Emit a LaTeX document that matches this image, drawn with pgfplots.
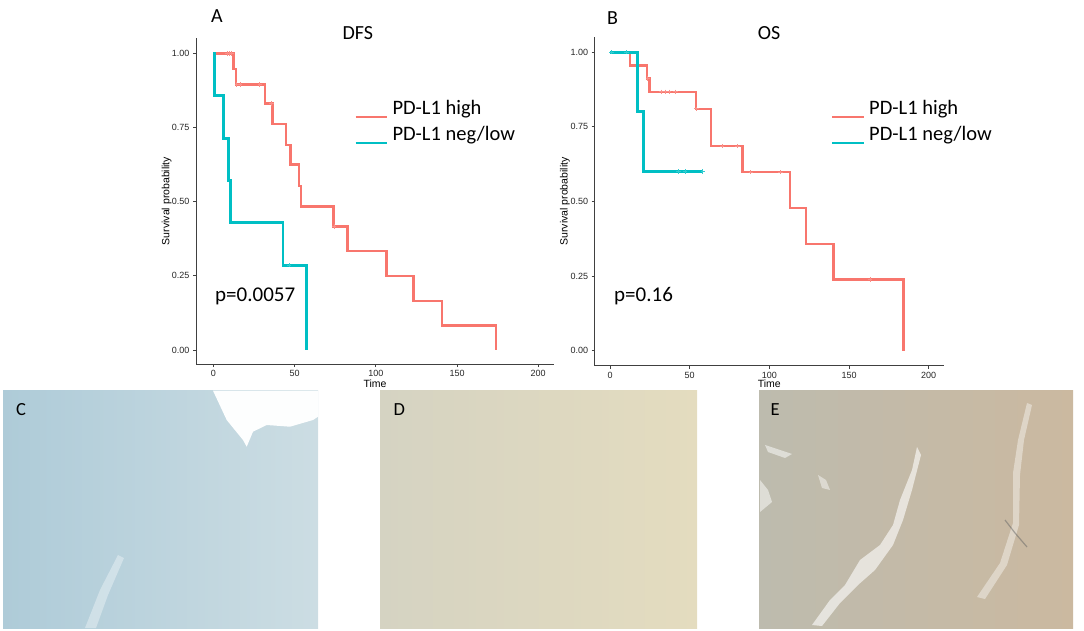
\documentclass[border=0pt]{standalone}
\usepackage{pgfplots}
\pgfplotsset{compat=1.18}
\usepackage{fontspec}
\setmainfont{Carlito}
\newfontfamily\arialf{Liberation Sans}
\definecolor{kmred}{HTML}{F8766D}
\definecolor{kmcyan}{HTML}{00BFC4}
\definecolor{cL}{HTML}{AECBD8}
\definecolor{cR}{HTML}{CCDDE3}
\definecolor{dL}{HTML}{D5D3C2}
\definecolor{dR}{HTML}{E4DCBF}
\definecolor{eL}{HTML}{BDBBAE}
\definecolor{eR}{HTML}{CBB9A0}

\pgfplotsset{kmaxis/.style={
  scale only axis, anchor=south west,
  axis x line*=bottom, axis y line*=left,
  axis line style={black!75, line width=0.9pt},
  tick align=outside, major tick length=3pt,
  tick style={black!75, line width=0.8pt},
  xtick={0,50,100,150,200},
  ytick={0,0.25,0.5,0.75,1},
  yticklabels={0.00,0.25,0.50,0.75,1.00},
  /pgf/number format/assume math mode=true,
  ticklabel style={font=\arialf\fontsize{9}{10}\selectfont, text=black!85},
  label style={font=\arialf\fontsize{10.5}{12}\selectfont},
  xlabel={Time}, ylabel={Survival probability},
  clip=false,
}}

\begin{document}
\begin{tikzpicture}[x=1pt,y=1pt]
\path[use as bounding box] (0,0) rectangle (1084,630);

% --- micrograph panels (decorative stand-ins) ---
\shade[left color=cL, right color=cR] (3,2) rectangle (318,239.3);
\fill[white!96!cR] (213,239.3) -- (226.7,210) -- (243,190) -- (246.7,183.3) -- (253,198.3) -- (266.7,205) -- (290,203.3) -- (313,210) -- (318,213.3) -- (318,239.3) -- cycle;
\fill[white, opacity=0.35] (85,2) -- (100,40) -- (118,75) -- (124,72) -- (108,35) -- (96,2) -- cycle;
\shade[left color=dL, right color=dR] (380,2) rectangle (697,240);
\shade[left color=eL, right color=eR] (759,2) rectangle (1073,240);
\fill[white, opacity=0.6] (917,183) -- (912,160) -- (900,130) -- (893,105) -- (880,85) -- (860,70) -- (845,45) -- (830,30) -- (812,5) -- (822,4) -- (840,27) -- (858,45) -- (875,60) -- (893,85) -- (903,110) -- (912,140) -- (921,175) -- cycle;
\fill[white, opacity=0.4] (1027,227) -- (1018,190) -- (1013,157) -- (1013,107) -- (1000,67) -- (977,33) -- (985,31) -- (1007,65) -- (1019,105) -- (1020,155) -- (1024,190) -- (1032,225) -- cycle;
\fill[white, opacity=0.5] (760,150) -- (768,140) -- (772,128) -- (760,118) -- cycle;
\fill[white, opacity=0.5] (765,185) -- (780,180) -- (792,176) -- (785,172) -- (768,178) -- cycle;
\fill[white, opacity=0.45] (818,155) -- (826,150) -- (830,140) -- (822,142) -- cycle;
\draw[black!60, line width=1.2pt, opacity=0.5] (1005,110) -- (1015,97) -- (1027,83);

\node[anchor=base west, font=\fontsize{18.5}{20}\selectfont] at (12.5,215) {C};
\node[anchor=base west, font=\fontsize{18.5}{20}\selectfont] at (390,215) {D};
\node[anchor=base west, font=\fontsize{18.5}{20}\selectfont] at (767,215) {E};

% --- A: DFS ---
\begin{axis}[kmaxis, at={(196pt,266pt)}, width=358pt, height=326pt,
  xmin=-10.65, xmax=209.7, ymin=-0.047, ymax=1.052,
  xlabel style={at={(axis description cs:0.5,0)}, anchor=center, yshift=-19.5pt},
  ylabel style={at={(axis description cs:-0.082,0.5)}, anchor=center}]
\addplot[kmred, line width=2.5pt, const plot] coordinates {
 (0,1)(12.5,0.947)(14,0.895)(31.8,0.831)(36.3,0.762)(44.8,0.692)(47.4,0.625)
 (52.8,0.553)(54,0.484)(73.9,0.416)(82.7,0.334)(106.7,0.249)(123.1,0.165)
 (140.8,0.082)(174,0)};
\addplot[only marks, mark=+, mark size=2.2pt, kmred!80!white, line width=0.9pt] coordinates {
 (8.5,1)(9.8,1)(11.2,1)(14.5,0.895)(16.4,0.895)(28.7,0.895)(35.9,0.831)(74.3,0.416)};
\addplot[kmcyan, line width=2.9pt, const plot] coordinates {
 (0,1)(0.6,0.857)(6.2,0.714)(9.6,0.571)(10.7,0.429)(42.9,0.286)(57.5,0)};
\addplot[only marks, mark=+, mark size=2.2pt, kmcyan!80!white, line width=0.9pt] coordinates {
 (46.6,0.286)};
\end{axis}

% --- B: OS ---
\begin{axis}[kmaxis, at={(594.7pt,264.3pt)}, width=349.3pt, height=328.4pt,
  xmin=-9.6, xmax=209.6, ymin=-0.05, ymax=1.05,
  xlabel style={at={(axis description cs:0.5,0)}, anchor=center, yshift=-18.3pt},
  ylabel style={at={(axis description cs:-0.085,0.5)}, anchor=center}]
\addplot[kmred, line width=2.4pt, const plot] coordinates {
 (0,1)(12.5,0.956)(23.2,0.912)(24.7,0.867)(54,0.810)(63.4,0.685)(83.1,0.598)
 (113,0.479)(123,0.358)(140.2,0.239)(184.1,0)};
\addplot[only marks, mark=+, mark size=2.2pt, kmred!80!white, line width=0.9pt] coordinates {
 (23.8,0.912)(32.2,0.867)(34.7,0.867)(37.2,0.867)(41.2,0.867)(54.4,0.81)
 (70.3,0.685)(80.1,0.685)(88.3,0.598)(107.1,0.598)(163.2,0.239)};
\addplot[kmcyan, line width=2.9pt, const plot] coordinates {
 (0,1)(17.2,0.8)(21.3,0.6)(58.5,0.6)};
\addplot[only marks, mark=+, mark size=2.2pt, kmcyan!80!white, line width=0.9pt] coordinates {
 (1,1)(10.4,1)(43.1,0.6)(47.1,0.6)(58.3,0.6)};
\end{axis}

% --- titles, panel letters, p-values, legends ---
\node[anchor=base west, font=\fontsize{20}{22}\selectfont] at (207.5,607.3) {A};
\node[anchor=base west, font=\fontsize{20}{22}\selectfont] at (603.5,605) {B};
\node[anchor=base, font=\fontsize{20}{22}\selectfont] at (357.8,590.7) {DFS};
\node[anchor=base, font=\fontsize{20}{22}\selectfont] at (769,590.7) {OS};
\node[anchor=base west, font=\fontsize{21}{24}\selectfont, inner sep=0pt] at (215,328.3) {p=0.0057};
\node[anchor=base west, font=\fontsize{21}{24}\selectfont, inner sep=0pt] at (614,328.3) {p=0.16};

\draw[kmred, line width=2pt] (355.7,513.3) -- (387.3,513.3);
\draw[kmcyan, line width=2pt] (355.7,486.7) -- (387.3,486.7);
\node[anchor=base west, font=\fontsize{20.5}{24}\selectfont, inner sep=0pt] at (392.3,515) {PD-L1 high};
\node[anchor=base west, font=\fontsize{20.5}{24}\selectfont, inner sep=0pt] at (392.3,489.3) {PD-L1 neg/low};

\draw[kmred, line width=2pt] (832.3,512.7) -- (863.7,512.7);
\draw[kmcyan, line width=2pt] (832.3,486.7) -- (863.7,486.7);
\node[anchor=base west, font=\fontsize{20.5}{24}\selectfont, inner sep=0pt] at (869,515) {PD-L1 high};
\node[anchor=base west, font=\fontsize{20.5}{24}\selectfont, inner sep=0pt] at (869,489.3) {PD-L1 neg/low};
\end{tikzpicture}
\end{document}
